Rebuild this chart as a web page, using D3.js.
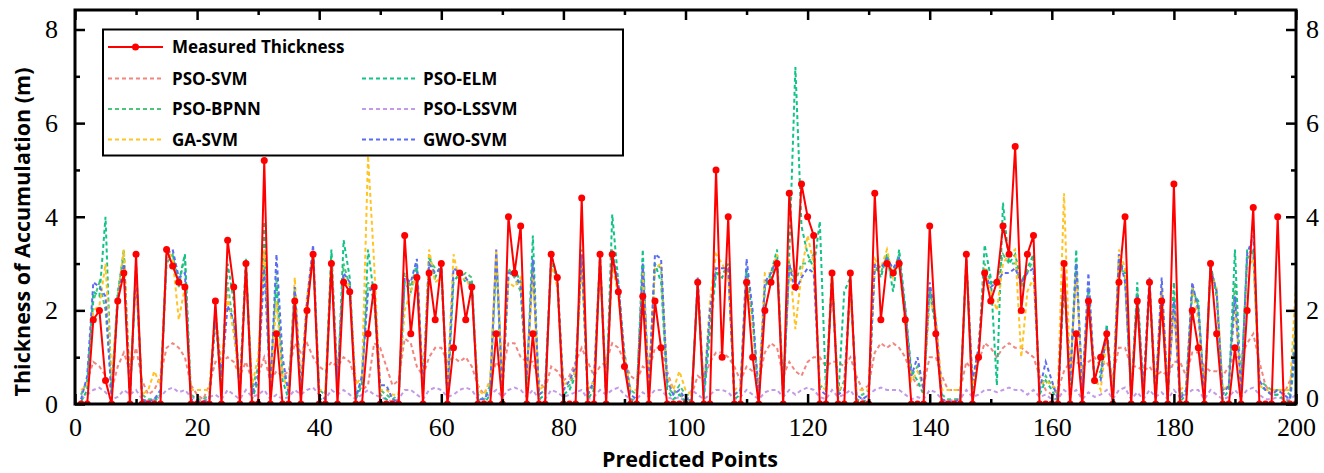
<!DOCTYPE html>
<html>
<head>
<meta charset="utf-8">
<script src="https://cdn.jsdelivr.net/npm/d3@7"></script>
<style>
  body { margin: 0; background: #fff; }
  .tick text { font-family: "Liberation Serif", "Times New Roman", serif; font-size: 26px; fill: #000; }
  .axis path, .axis line { stroke: #000; }
  .title { font-family: "Open Sans", sans-serif; font-weight: bold; font-size: 21.5px; fill: #000; }
  .leg { font-family: "Open Sans", sans-serif; font-weight: bold; font-size: 17px; fill: #000; }
</style>
</head>
<body>
<div id="chart"></div>
<script>
// x positions 1..200
const points = d3.range(1, 201);

const measured = [
0,0,1.8,2.0,0.5,0,2.2,2.8,0,3.2,
0,0,0,0,3.3,2.95,2.6,2.5,0,0,
0,0,2.2,0,3.5,2.5,0,3.0,0,0,
5.2,0,1.5,0,0,2.2,0,2.0,3.2,0,
0,3.0,0,2.6,2.4,0,0,1.5,2.5,0,
0,0,0,3.6,1.5,2.7,0,2.8,1.8,3.0,
0,1.2,2.8,1.8,2.5,0,0,0,1.5,0,
4.0,2.8,3.8,0,1.5,0,0,3.2,2.7,0,
0,0,4.4,0,0,3.2,0,3.2,2.4,0.8,
0,0,2.3,0,2.2,1.2,0,0,0,0,
0,2.6,0,0,5.0,1.0,4.0,0,0,2.6,
1.0,0,2.0,2.6,3.0,0,4.5,2.5,4.7,4.0,
3.6,0,0,2.8,0,0,2.8,0,0,0,
4.5,1.8,3.0,2.8,3.0,1.8,0,0,0,3.8,
1.5,0,0,0,0,3.2,0,1.0,2.8,2.2,
2.6,3.8,3.2,5.5,2.0,3.2,3.6,0,0,0,
0,3.0,0,1.5,0,2.2,0.5,1.0,1.5,0,
2.6,4.0,0,2.2,0,2.6,0,2.2,0,4.7,
0,0,2.0,1.2,0,3.0,1.5,0,0,1.2,
0,2.0,4.2,0,0,0,4.0,0,0,0];

const psoSvm = [
0.2,0.5,0.9,0.8,0.6,0.3,0.8,1.1,0.7,1.2,
0.5,0.2,0.3,0.6,1.2,1.3,1.2,1.0,0.4,0.2,
0.1,0.4,0.9,0.9,1.0,0.9,0.6,0.9,0.5,0.6,
1.0,0.5,0.7,0.6,0.7,1.3,1.1,1.3,1.0,0.8,
0.7,0.9,0.8,1.0,0.9,0.5,0.3,0.4,1.3,1.2,
0.8,0.4,0.5,1.4,1.3,0.8,0.6,1.0,1.2,1.2,
0.9,1.0,0.9,1.0,0.8,0.4,0.2,0.5,0.9,0.7,
1.3,1.3,1.0,0.9,0.9,0.5,0.3,0.8,0.7,0.5,
0.6,0.9,1.2,0.9,0.6,0.8,0.9,1.3,1.2,0.9,
0.6,0.5,0.8,0.7,1.2,1.2,0.7,0.3,0.2,0.1,
0.2,0.6,0.5,0.9,1.1,1.1,1.0,0.8,0.5,0.8,
0.7,0.5,1.1,1.3,1.2,0.6,0.9,0.7,0.6,0.9,
1.0,1.0,0.8,0.9,0.9,0.8,1.0,0.6,0.3,0.4,
1.1,1.3,1.2,1.3,1.2,1.0,0.6,0.4,0.4,1.0,
1.0,0.6,0.3,0.3,0.3,0.9,0.7,0.9,1.3,1.2,
1.0,1.2,1.3,1.2,1.2,1.1,1.0,0.6,0.3,0.2,
0.3,0.7,0.9,0.9,0.8,0.9,1.0,0.8,0.9,0.6,
1.2,1.2,0.8,0.8,0.7,0.8,0.6,0.7,0.6,0.9,
0.9,0.6,1.1,1.1,0.8,0.7,0.7,0.6,0.8,1.0,
1.0,1.3,1.5,0.9,0.4,0.2,0.2,0.2,0.5,1.0];

const psoBpnn = [
0.2,0.5,2.2,2.6,2.0,0.3,2.4,3.2,0.3,2.8,
0.2,0.1,0.1,0.2,3.0,3.2,2.5,3.2,0.2,0.1,
0.1,0.2,2.0,0.5,2.6,1.6,0.4,3.0,0.3,0.8,
3.3,0.4,2.8,0.7,0.3,2.5,0.3,2.0,3.3,0.3,
0.2,3.2,0.4,3.0,2.5,0.2,0.5,2.6,2.2,0.3,
0.2,0.1,0.2,2.8,2.5,3.0,0.3,3.1,2.9,2.8,
0.3,2.7,2.7,2.8,2.7,0.2,0.1,0.4,3.2,0.4,
2.9,2.7,2.4,0.5,3.0,0.2,0.3,3.0,2.7,0.3,
0.4,0.7,3.1,0.2,0.4,3.0,0.2,3.3,2.5,1.1,
0.3,0.2,2.9,0.3,3.0,2.9,0.4,0.2,0.4,0.2,
0.2,2.5,0.3,1.8,2.8,2.8,2.9,0.2,0.3,2.8,
1.9,0.2,2.5,2.7,3.1,0.2,3.0,2.6,3.0,3.0,
3.2,0.4,0.3,2.8,0.2,0.5,2.5,0.2,0.2,0.3,
2.9,2.8,3.2,2.8,3.2,2.1,0.6,0.8,0.3,2.5,
1.7,0.2,0.1,0.1,0.1,3.0,0.4,1.1,3.0,2.6,
2.6,3.2,3.0,3.0,2.5,2.8,3.1,0.3,0.6,0.4,
0.2,2.7,0.5,3.0,0.3,2.5,0.6,0.7,1.5,0.2,
3.0,2.7,0.2,2.4,0.3,2.5,0.2,2.4,0.2,2.4,
0.2,0.3,2.5,2.1,0.2,2.9,2.4,0.3,0.4,2.6,
0.3,3.1,3.3,0.5,0.4,0.3,0.3,0.3,0.2,1.8];

const gaSvm = [
0.3,0.4,2.0,2.1,3.0,0.5,2.2,3.3,0.5,2.7,
0.2,0.3,0.7,0.4,3.3,3.1,1.8,2.5,0.3,0.3,
0.3,0.3,2.0,0.8,2.3,1.5,0.4,2.9,0.4,1.0,
3.3,0.4,2.2,0.6,0.3,2.7,0.4,2.3,3.2,0.3,
0.3,3.1,0.5,2.7,2.5,0.4,0.6,5.3,3.0,0.3,
0.3,0.2,0.2,2.0,2.4,2.8,0.4,3.3,2.6,2.7,
0.4,3.2,2.6,2.7,2.4,0.3,0.2,0.5,3.3,0.5,
2.6,2.5,2.7,0.6,2.8,0.3,0.4,3.0,2.5,0.4,
0.5,0.7,3.0,0.3,0.5,3.2,0.3,3.0,2.3,1.0,
0.3,0.3,2.8,0.5,2.9,3.0,0.6,0.3,0.7,0.3,
0.2,2.5,0.3,2.2,3.2,3.0,2.7,0.3,0.4,2.7,
1.6,0.3,2.8,2.8,3.2,0.3,3.1,1.6,2.8,3.6,
3.0,0.4,0.3,2.8,0.3,0.4,2.4,0.3,0.3,0.3,
3.1,2.9,3.3,2.7,3.0,1.7,0.5,0.7,0.4,2.2,
1.9,0.3,0.3,0.3,0.3,3.1,0.4,1.2,2.9,2.4,
2.0,3.0,3.2,3.3,1.0,2.4,2.7,0.4,0.5,0.4,
0.3,4.5,0.6,2.8,0.4,2.3,0.6,0.3,1.4,0.3,
3.3,2.9,0.3,2.2,0.3,2.6,0.3,2.5,0.3,2.0,
0.3,0.4,2.5,1.8,0.3,2.8,2.5,0.3,0.4,2.1,
0.4,2.9,3.1,0.4,0.3,0.3,0.3,0.3,0.3,2.6];

const psoElm = [
0.05,0.3,2.4,2.3,4.0,0.2,2.3,3.3,0.1,3.0,
0.1,0,0.05,0.2,3.1,3.2,2.6,3.2,0.05,0,
0,0.1,1.8,0.4,3.0,2.2,0.3,3.1,0.1,0.5,
3.9,0.3,2.6,0.5,0.1,2.4,0.2,2.1,3.2,0.1,
0.1,3.3,0.3,3.5,2.7,0.1,0.4,3.3,2.3,0.2,
0.1,0,0.05,2.6,2.4,2.9,0.2,3.2,2.7,3.0,
0.1,2.6,2.8,2.6,2.6,0.1,0,0.2,3.1,0.2,
2.7,2.9,2.6,0.4,3.6,0.1,0.2,3.1,2.6,0.2,
0.3,0.6,3.3,0.1,0.3,3.1,0.1,4.05,2.6,0.9,
0.1,0.05,3.3,0.2,3.0,2.6,0.3,0.1,0.2,0.05,
0.1,2.6,0.1,1.5,2.8,2.7,3.0,0.1,0.2,2.9,
1.8,0.05,2.5,2.8,3.3,0.1,3.2,7.2,3.8,3.2,
2.9,3.9,0.3,2.6,0.1,2.4,2.7,0.1,0.05,0.1,
3.0,2.7,3.2,2.4,3.3,2.0,0.7,0.5,0.2,2.4,
1.6,0.05,0,0,0.05,3.0,0.3,1.0,3.4,2.7,
0.4,4.3,3.0,3.2,2.6,2.9,3.2,0.2,0.5,0.3,
0.05,2.6,0.4,3.3,0.2,2.4,0.4,0.6,1.7,0.05,
3.1,2.8,0.1,2.6,0.2,2.5,0.1,2.2,0.1,2.6,
0.05,0.2,2.4,2.2,0.1,3.0,2.3,0.1,0.3,3.3,
0.2,3.3,3.2,0.4,0.3,0.2,0.2,0.1,0.05,1.2];

const psoLssvm = [
0.1,0.2,0.3,0.35,0.25,0.1,0.15,0.3,0.2,0.3,
0.1,0.05,0.1,0.15,0.3,0.35,0.25,0.3,0.15,0.1,
0.05,0.15,0.2,0.1,0.3,0.2,0.1,0.3,0.15,0.2,
0.3,0.1,0.2,0.1,0.15,0.3,0.2,0.3,0.35,0.2,
0.1,0.3,0.2,0.3,0.2,0.1,0.2,0.3,0.2,0.15,
0.1,0.05,0.1,0.3,0.3,0.2,0.1,0.3,0.35,0.3,
0.15,0.2,0.3,0.35,0.3,0.1,0.1,0.2,0.3,0.15,
0.3,0.35,0.3,0.15,0.3,0.1,0.1,0.3,0.25,0.15,
0.2,0.25,0.3,0.1,0.15,0.3,0.2,0.3,0.35,0.2,
0.1,0.1,0.25,0.15,0.3,0.3,0.15,0.1,0.15,0.05,
0.3,0.2,0.1,0.2,0.3,0.3,0.25,0.1,0.15,0.3,
0.2,0.1,0.25,0.3,0.3,0.15,0.3,0.2,0.3,0.35,
0.3,0.15,0.1,0.3,0.15,0.2,0.3,0.1,0.1,0.2,
0.3,0.35,0.3,0.3,0.3,0.2,0.1,0.15,0.1,0.3,
0.25,0.1,0.05,0.1,0.1,0.3,0.15,0.2,0.3,0.3,
0.25,0.3,0.35,0.3,0.3,0.2,0.3,0.15,0.2,0.1,
0.1,0.3,0.2,0.3,0.1,0.25,0.15,0.2,0.3,0.1,
0.3,0.35,0.1,0.25,0.1,0.3,0.15,0.25,0.1,0.3,
0.15,0.2,0.3,0.3,0.1,0.3,0.2,0.1,0.15,0.3,
0.15,0.3,0.35,0.2,0.1,0.1,0.15,0.1,0.1,0.2];

const gwoSvm = [
0.1,0.6,2.6,2.5,2.3,0.1,2.2,3.0,0.2,2.8,
0.1,0.05,0.1,0.3,3.2,3.3,2.7,2.8,0.1,0.05,
0.05,0.1,1.9,0.6,2.1,1.8,0.3,2.9,0.2,0.6,
2.9,0.3,3.2,1.0,0.2,2.5,0.3,2.2,3.4,0.2,
0.1,3.0,0.5,2.8,2.6,0.1,0.6,2.4,2.5,0.4,
0.4,0.1,0.05,2.7,2.6,3.1,0.3,3.0,2.8,2.9,
0.2,2.9,2.8,2.7,2.5,0.1,0.1,0.3,3.3,0.3,
2.8,2.8,2.5,0.6,3.1,0.2,0.3,3.2,2.7,0.3,
0.5,0.8,3.2,0.2,0.5,3.2,0.2,3.2,2.6,1.0,
0.2,0.1,3.0,0.3,3.2,3.1,0.5,0.2,0.3,0.1,
0.1,2.7,0.2,2.0,2.9,2.9,2.9,0.2,0.3,3.1,
2.0,0.1,2.6,2.8,3.1,0.2,3.0,2.4,2.7,2.9,
2.8,0.3,0.2,2.7,0.2,0.3,2.6,0.2,0.1,0.2,
3.0,2.9,3.1,2.9,3.1,2.0,0.6,1.0,0.3,2.6,
1.8,0.1,0.05,0.05,0.1,3.1,0.5,1.2,2.8,2.5,
2.6,2.8,2.8,2.9,2.6,2.8,2.9,0.3,0.9,0.5,
0.1,2.8,0.5,3.0,0.3,2.8,0.5,0.5,1.6,0.1,
3.2,2.6,0.2,2.3,0.3,2.7,0.2,2.7,0.2,2.2,
0.1,0.3,2.6,2.0,0.2,2.9,2.4,0.2,0.4,2.3,
0.3,3.2,3.6,0.5,0.3,0.2,0.3,0.2,0.1,1.5];

const xTicks = [0, 20, 40, 60, 80, 100, 120, 140, 160, 180, 200];
const yTicks = [0, 2, 4, 6, 8];

// drawing order: dashed predictions first, measured on top
const series = [
  {name: 'PSO-SVM',   values: psoSvm,   color: '#f2867f'},
  {name: 'PSO-LSSVM', values: psoLssvm, color: '#c49ae6'},
  {name: 'PSO-BPNN',  values: psoBpnn,  color: '#4cc47a'},
  {name: 'PSO-ELM',   values: psoElm,   color: '#12c386'},
  {name: 'GA-SVM',    values: gaSvm,    color: '#ffc423'},
  {name: 'GWO-SVM',   values: gwoSvm,   color: '#5b6df2'}
];

const W = 1324, H = 473;
const mLeft = 75, mRight = 1296, mTop = 10, mBottom = 404;

const svg = d3.select('#chart').append('svg')
  .attr('width', W).attr('height', H);

const x = d3.scaleLinear().domain([0, 200]).range([mLeft, mRight]);
const y = d3.scaleLinear().domain([0, 8]).range([mBottom, 29.5]);

svg.append('clipPath').attr('id', 'clip')
  .append('rect')
  .attr('x', mLeft).attr('y', mTop)
  .attr('width', mRight - mLeft).attr('height', mBottom - mTop);

const line = d3.line()
  .x((d, i) => x(points[i]))
  .y(d => y(d));

const plot = svg.append('g').attr('clip-path', 'url(#clip)');

series.forEach(s => {
  plot.append('path')
    .datum(s.values)
    .attr('fill', 'none')
    .attr('stroke', s.color)
    .attr('stroke-width', 2)
    .attr('stroke-dasharray', '4,3')
    .attr('d', line);
});

plot.append('path')
  .datum(measured)
  .attr('fill', 'none')
  .attr('stroke', '#ff0000')
  .attr('stroke-width', 2)
  .attr('d', line);

plot.selectAll('.dot')
  .data(measured)
  .enter().append('circle')
  .attr('class', 'dot')
  .attr('cx', (d, i) => x(points[i]))
  .attr('cy', d => y(d))
  .attr('r', 3.5)
  .attr('fill', '#ff0000');

// axes, ticks pointing inward
const minorX = d3.range(10, 200, 20);
const minorY = [1, 3, 5, 7];

svg.append('g').attr('class', 'axis')
  .attr('transform', `translate(0,${mBottom})`)
  .call(d3.axisBottom(x).tickValues(xTicks).tickSize(-10).tickPadding(14).tickFormat(d3.format('d')))
  .call(g => g.select('.domain').remove());
svg.append('g').attr('class', 'axis')
  .attr('transform', `translate(0,${mBottom})`)
  .call(d3.axisBottom(x).tickValues(minorX).tickSize(-5).tickFormat(''))
  .call(g => g.select('.domain').remove());

svg.append('g').attr('class', 'axis')
  .attr('transform', `translate(0,${mTop})`)
  .call(d3.axisTop(x).tickValues(xTicks).tickSize(-10).tickFormat(''))
  .call(g => g.select('.domain').remove());
svg.append('g').attr('class', 'axis')
  .attr('transform', `translate(0,${mTop})`)
  .call(d3.axisTop(x).tickValues(minorX).tickSize(-5).tickFormat(''))
  .call(g => g.select('.domain').remove());

svg.append('g').attr('class', 'axis')
  .attr('transform', `translate(${mLeft},0)`)
  .call(d3.axisLeft(y).tickValues(yTicks).tickSize(-10).tickPadding(17))
  .call(g => g.select('.domain').remove());
svg.append('g').attr('class', 'axis')
  .attr('transform', `translate(${mLeft},0)`)
  .call(d3.axisLeft(y).tickValues(minorY).tickSize(-5).tickFormat(''))
  .call(g => g.select('.domain').remove());

const rightAxis = svg.append('g').attr('class', 'axis')
  .attr('transform', `translate(${mRight},0)`)
  .call(d3.axisRight(y).tickValues(yTicks).tickSize(-10).tickPadding(10))
  .call(g => g.select('.domain').remove());
// lift the right-hand "0" a little so it clears the "200" below it
rightAxis.selectAll('.tick text').filter(d => d === 0).attr('dy', '0.1em');
svg.append('g').attr('class', 'axis')
  .attr('transform', `translate(${mRight},0)`)
  .call(d3.axisRight(y).tickValues(minorY).tickSize(-5).tickFormat(''))
  .call(g => g.select('.domain').remove());

svg.selectAll('.axis .tick line').attr('stroke-width', 2.5);

// frame
svg.append('rect')
  .attr('x', mLeft).attr('y', mTop)
  .attr('width', mRight - mLeft).attr('height', mBottom - mTop)
  .attr('fill', 'none').attr('stroke', '#000').attr('stroke-width', 3);

// titles
svg.append('text').attr('class', 'title')
  .attr('x', 690).attr('y', 467)
  .attr('text-anchor', 'middle')
  .text('Predicted Points');

svg.append('text').attr('class', 'title')
  .attr('transform', 'translate(30,232) rotate(-90)')
  .attr('text-anchor', 'middle')
  .text('Thickness of Accumulation (m)');

// legend
const legend = svg.append('g');
legend.append('rect')
  .attr('x', 103).attr('y', 29.5)
  .attr('width', 520).attr('height', 126)
  .attr('fill', '#fff').attr('stroke', '#000').attr('stroke-width', 2);

legend.append('line')
  .attr('x1', 108).attr('x2', 163).attr('y1', 47).attr('y2', 47)
  .attr('stroke', '#ff0000').attr('stroke-width', 2);
legend.append('circle').attr('cx', 135.5).attr('cy', 47).attr('r', 3.5).attr('fill', '#ff0000');
legend.append('text').attr('class', 'leg').attr('x', 172).attr('y', 53).text('Measured Thickness');

const legItems = [
  {name: 'PSO-SVM',   col: 0, row: 0},
  {name: 'PSO-ELM',   col: 1, row: 0},
  {name: 'PSO-BPNN',  col: 0, row: 1},
  {name: 'PSO-LSSVM', col: 1, row: 1},
  {name: 'GA-SVM',    col: 0, row: 2},
  {name: 'GWO-SVM',   col: 1, row: 2}
];
legItems.forEach(it => {
  const s = series.find(d => d.name === it.name);
  const lx = it.col ? 362 : 108;
  const ly = 78.5 + it.row * 30.5;
  legend.append('line')
    .attr('x1', lx).attr('x2', lx + 55).attr('y1', ly).attr('y2', ly)
    .attr('stroke', s.color).attr('stroke-width', 2).attr('stroke-dasharray', '4,3');
  legend.append('text').attr('class', 'leg')
    .attr('x', lx + (it.col ? 61 : 64)).attr('y', ly + 6).text(it.name);
});
</script>
</body>
</html>
